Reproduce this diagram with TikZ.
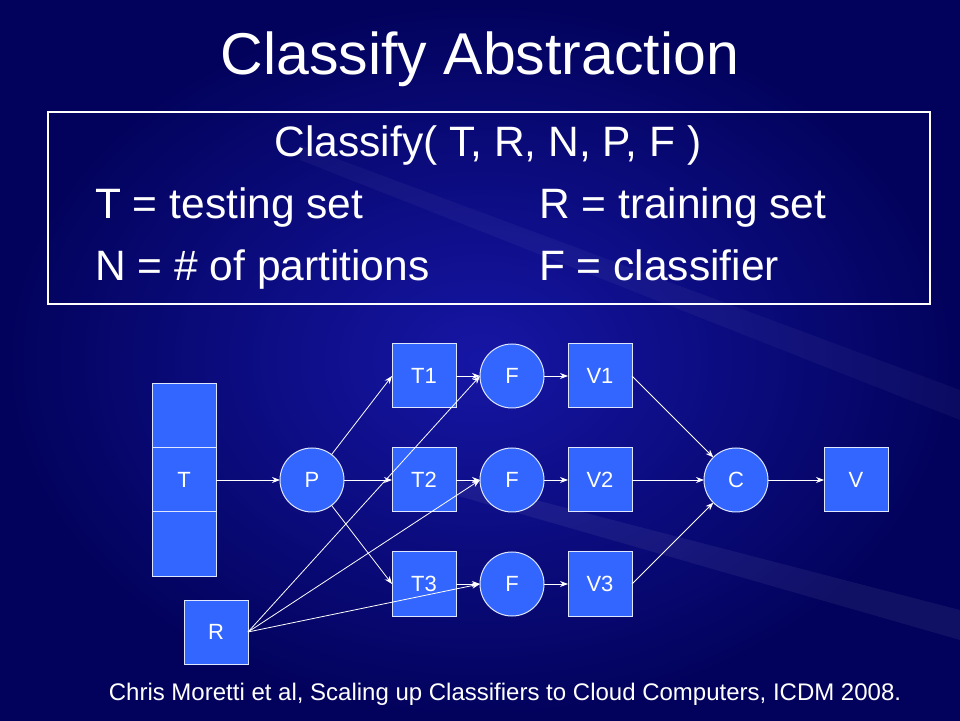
\documentclass[tikz,border=0pt]{standalone}
\usepackage{fontspec}
\setmainfont{Liberation Sans}
\usetikzlibrary{positioning,arrows.meta}
\definecolor{nodeblue}{RGB}{51,102,255}
\definecolor{bgdark}{RGB}{2,2,92}
\definecolor{bgmid}{RGB}{22,22,165}

\begin{document}
\begin{tikzpicture}[x=1pt,y=1pt,
    ->,>={Stealth[length=8pt,width=6pt]},node distance=24pt,
    blk/.style={rectangle,draw=white!85!nodeblue,line width=1pt,fill=nodeblue,
      minimum size=64pt,inner sep=0pt,outer sep=0pt,text=white,
      font=\fontsize{22}{22}\selectfont},
    rnd/.style={blk,circle},
    txt/.style={text=white,inner sep=0pt,font=\fontsize{42.5}{42.5}\selectfont},
    every edge/.style={draw=white,line width=0.8pt}
  ]
  % background
  \shade[-,inner color=bgmid,outer color=bgdark] (0,0) rectangle (960,720);
  \fill[-,white,opacity=0.06] (420,250) -- (960,110) -- (960,80) -- (420,235) -- cycle;
  \fill[-,white,opacity=0.04] (300,560) -- (960,300) -- (960,330) -- (300,575) -- cycle;

  % header
  \node[txt,font=\fontsize{59}{59}\selectfont,anchor=base] (title) at (480,645) {Classify Abstraction};
  \draw[-,white,line width=1.2pt] (48,416) rectangle (930,608);
  \node[txt,anchor=base] (sig) at (488,563) {Classify( T, R, N, P, F )};
  \node[txt,anchor=base west] (dT) at (95,501) {T = testing set};
  \node[txt,anchor=base west] (dR) at (539,501) {R = training set};
  \node[txt,anchor=base west] (dN) at (95,439) {N = \# of partitions};
  \node[txt,anchor=base west] (dF) at (539,439) {F = classifier};

  % graph
  \node[blk] (T) at (184,240) {T};
  \node[blk,above=0pt of T] (Tup) {};
  \node[blk,below=0pt of T] (Tdn) {};
  \node[rnd,right=64pt of T] (P) {P};
  \node[blk,right=48pt of P] (T2) {T2};
  \node[blk,above=40pt of T2] (T1) {T1};
  \node[blk,below=40pt of T2] (T3) {T3};
  \foreach \i in {1,2,3}{
    \node[rnd,right=of T\i] (F\i) {F};
    \node[blk,right=of F\i] (V\i) {V\i};
  }
  \node[rnd,right=72pt of V2] (C) {C};
  \node[blk,right=56pt of C] (V) {V};
  \node[blk] (R) at (216,88) {R};

  \path (T) edge (P)
        (P) edge (T1.west) edge (T2) edge (T3.west)
        (V1.east) edge (C)
        (V2) edge (C)
        (V3.east) edge (C)
        (C) edge (V);
  \foreach \i in {1,2,3}
    \path (T\i) edge (F\i)
          (F\i) edge (V\i)
          (R.east) edge (F\i.west);

  % reference
  \node[anchor=base,text=white,inner sep=0pt,font=\fontsize{24}{24}\selectfont] (cite) at (505,20)
    {Chris Moretti et al, Scaling up Classifiers to Cloud Computers, ICDM 2008.};
\end{tikzpicture}
\end{document}
